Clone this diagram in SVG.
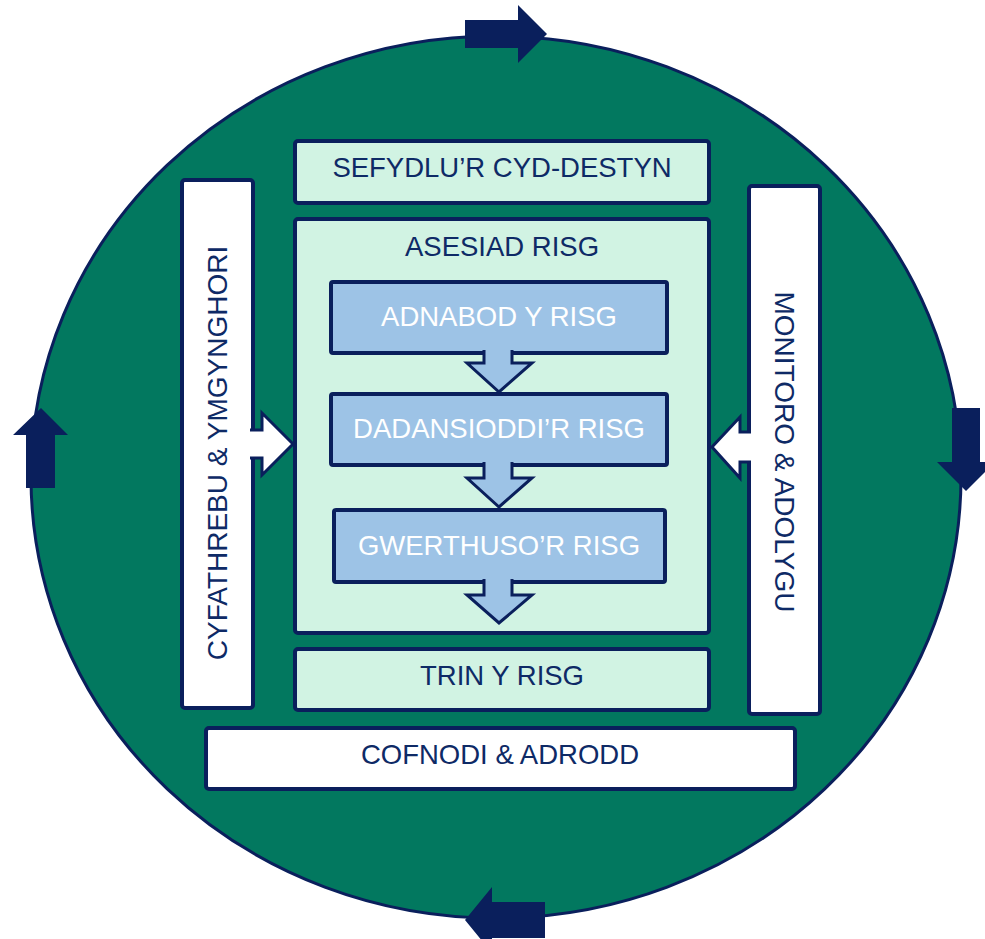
<svg xmlns="http://www.w3.org/2000/svg" width="985" height="939" viewBox="0 0 985 939">
<style>
.t{font-family:"Liberation Sans",Arial,sans-serif;font-size:27.5px;fill:#0E2A66;text-anchor:middle}
.v{font-size:28px}
.w{fill:#FFFFFF}
.mint{fill:#D1F3E3;stroke:#0A1F5C;stroke-width:4}
.white{fill:#FFFFFF;stroke:#0A1F5C;stroke-width:4}
.blue{fill:#9DC3E6;stroke:#0A1F5C;stroke-width:4}
.cyc{fill:#0A1F5C}
.da{fill:#9DC3E6;stroke:#0A1F5C;stroke-width:3;stroke-linejoin:miter}
.sa{fill:#FFFFFF;stroke:#0A1F5C;stroke-width:3;stroke-linejoin:miter}
</style>
<rect width="985" height="939" fill="#FFFFFF"/>
<g id="cycle">
<ellipse cx="496" cy="477" rx="465" ry="441" fill="#02785F" stroke="#0A1F5C" stroke-width="3"/>
</g>
<g id="context">
<rect class="mint" x="295" y="141" width="414" height="62" rx="3"/>
<text class="t" x="502" y="177">SEFYDLU’R CYD-DESTYN</text>
</g>
<g id="assessment">
<rect class="mint" x="295" y="219" width="414" height="414" rx="3"/>
<text class="t" x="502" y="256">ASESIAD RISG</text>
</g>
<g id="identify">
<rect class="blue" x="331" y="282" width="336" height="71" rx="2"/>
<text class="t w" x="499" y="326">ADNABOD Y RISG</text>
</g>
<g id="analyse">
<rect class="blue" x="331" y="394" width="336" height="71" rx="2"/>
<text class="t w" x="499" y="438">DADANSIODDI’R RISG</text>
</g>
<g id="evaluate">
<rect class="blue" x="334" y="510" width="331" height="72" rx="2"/>
<text class="t w" x="499" y="555">GWERTHUSO’R RISG</text>
</g>
<g id="treat">
<rect class="mint" x="295" y="649" width="414" height="61" rx="3"/>
<text class="t" x="502" y="685">TRIN Y RISG</text>
</g>
<g id="record">
<rect class="white" x="206" y="728" width="589" height="61" rx="3"/>
<text class="t" x="500" y="764">COFNODI &amp; ADRODD</text>
</g>
<g id="communicate">
<rect class="white" x="182" y="180" width="71" height="528" rx="3"/>
<text class="t v" transform="translate(227,453) rotate(-90)">CYFATHREBU &amp; YMGYNGHORI</text>
</g>
<g id="monitor">
<rect class="white" x="749" y="186" width="71" height="528" rx="3"/>
<text class="t v" transform="translate(775,452) rotate(90)">MONITORO &amp; ADOLYGU</text>
</g>
<g id="connectors">
<polygon class="cyc" points="465,20 518,20 518,5 547,34 518,63 518,48 465,48"/>
<polygon class="cyc" points="952,408 980,408 980,462 995,462 966,491 937,462 952,462"/>
<polygon class="cyc" points="545,902 545,938 492,938 492,953 465,920 492,887 492,902"/>
<polygon class="cyc" points="26,488 26,435 13,435 41,408 68,435 55,435 55,488"/>
<path class="da" d="M484,350 L484,363 L467,363 L499,392 L532,363 L512,363 L512,350"/>
<path class="da" d="M484,462 L484,478 L467,478 L499,507 L532,478 L512,478 L512,462"/>
<path class="da" d="M484,579 L484,595 L467,595 L499,623 L532,595 L512,595 L512,579"/>
<path class="sa" d="M250,430 L262,430 L262,413 L293,444 L262,475 L262,458 L250,458"/>
<path class="sa" d="M751,432 L740,432 L740,417 L712,447 L740,478 L740,462 L751,462"/>
</g>
</svg>
